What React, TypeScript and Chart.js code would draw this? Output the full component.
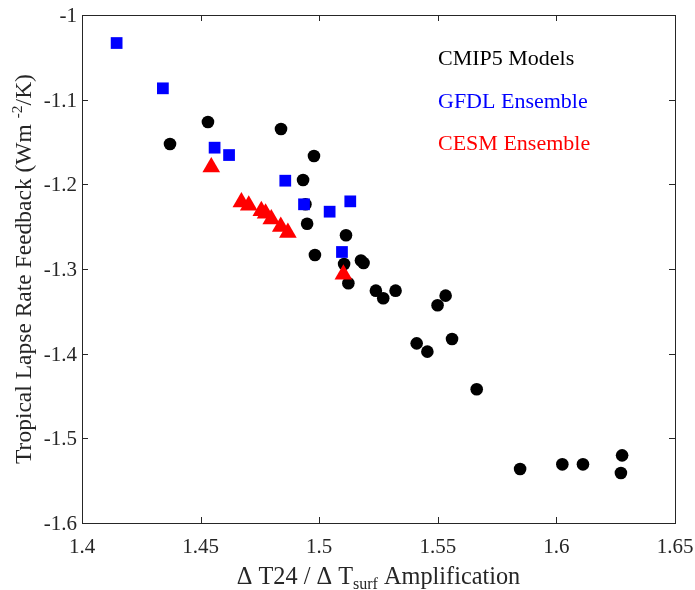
import { useEffect, useRef } from 'react';
import { Chart, registerables } from 'chart.js';
Chart.register(...registerables);

const FONT = '"Liberation Serif", "Times New Roman", Times, serif';
const AXIS_COLOR = '#262626';

// CMIP5 models (black circles)
const cmipX = [1.4371, 1.4531, 1.4839, 1.4978, 1.4932, 1.4942, 1.4949, 1.4982, 1.5113, 1.5176, 1.5187, 1.5105, 1.5123, 1.5239, 1.5270, 1.5322, 1.5533, 1.5499, 1.5411, 1.5456, 1.5560, 1.5664, 1.5847, 1.6025, 1.6112, 1.6277, 1.6272];
const cmipY = [-1.1524, -1.1264, -1.1346, -1.1665, -1.1949, -1.2236, -1.2465, -1.2835, -1.2602, -1.2900, -1.2929, -1.2941, -1.3169, -1.3256, -1.3346, -1.3256, -1.3315, -1.3429, -1.3878, -1.3976, -1.3827, -1.4421, -1.5362, -1.5307, -1.5307, -1.5201, -1.5409];

// GFDL ensemble (blue squares)
const gfdlX = [1.4146, 1.4341, 1.4559, 1.4620, 1.4857, 1.4936, 1.5044, 1.5131, 1.5096];
const gfdlY = [-1.0331, -1.0866, -1.1567, -1.1654, -1.1957, -1.2236, -1.2323, -1.2201, -1.2799];

// CESM ensemble (red triangles)
const cesmX = [1.4545, 1.4672, 1.4703, 1.4756, 1.4774, 1.4798, 1.4838, 1.4868, 1.5102];
const cesmY = [-1.1797, -1.2211, -1.2250, -1.2313, -1.2344, -1.2412, -1.2501, -1.2572, -1.3065];

const xTicks = [1.4, 1.45, 1.5, 1.55, 1.6, 1.65];
const xTickLabels = ['1.4', '1.45', '1.5', '1.55', '1.6', '1.65'];
const yTicks = [-1, -1.1, -1.2, -1.3, -1.4, -1.5, -1.6];
const yTickLabels = ['-1', '-1.1', '-1.2', '-1.3', '-1.4', '-1.5', '-1.6'];

const legendLabels = ['CMIP5 Models', 'GFDL Ensemble', 'CESM Ensemble'];
const legendColors = ['#000000', '#0000ff', '#ff0000'];

const toPoints = (xs: number[], ys: number[]) => xs.map((x, i) => ({ x, y: ys[i] }));

type Part = { t: string; size: number; dy: number };

function drawParts(ctx: CanvasRenderingContext2D, parts: Part[], cx: number, baseline: number) {
  let total = 0;
  const widths = parts.map((p) => {
    ctx.font = `${p.size}px ${FONT}`;
    const w = ctx.measureText(p.t).width;
    total += w;
    return w;
  });
  let x = cx - total / 2;
  parts.forEach((p, i) => {
    ctx.font = `${p.size}px ${FONT}`;
    ctx.fillText(p.t, x, baseline + p.dy);
    x += widths[i];
  });
}

const framePlugin = {
  id: 'frame',
  afterDatasetsDraw(chart: any) {
    const { ctx, chartArea } = chart;
    const { left, right, top, bottom } = chartArea;
    const xs = chart.scales.x;
    const ys = chart.scales.y;
    ctx.save();
    ctx.strokeStyle = AXIS_COLOR;
    ctx.lineWidth = 1;
    ctx.strokeRect(Math.round(left) + 0.5, Math.round(top) + 0.5, Math.round(right - left), Math.round(bottom - top));
    const tl = 6;
    ctx.beginPath();
    xTicks.forEach((v) => {
      const px = Math.round(xs.getPixelForValue(v)) + 0.5;
      ctx.moveTo(px, bottom);
      ctx.lineTo(px, bottom - tl);
      ctx.moveTo(px, top);
      ctx.lineTo(px, top + tl);
    });
    yTicks.forEach((v) => {
      const py = Math.round(ys.getPixelForValue(v)) + 0.5;
      ctx.moveTo(left, py);
      ctx.lineTo(left + tl, py);
      ctx.moveTo(right, py);
      ctx.lineTo(right - tl, py);
    });
    ctx.stroke();

    // tick labels
    ctx.fillStyle = AXIS_COLOR;
    ctx.font = `21px ${FONT}`;
    ctx.textBaseline = 'alphabetic';
    ctx.textAlign = 'center';
    xTicks.forEach((v, i) => {
      ctx.fillText(xTickLabels[i], xs.getPixelForValue(v), bottom + 30);
    });
    ctx.textAlign = 'right';
    yTicks.forEach((v, i) => {
      ctx.fillText(yTickLabels[i], left - 5, ys.getPixelForValue(v) + 7);
    });

    // axis titles
    ctx.textAlign = 'left';
    drawParts(
      ctx,
      [
        { t: '\u0394 T24 / \u0394 T', size: 24.3, dy: 0 },
        { t: 'surf', size: 16, dy: 5 },
        { t: ' Amplification', size: 24.3, dy: 0 },
      ],
      (left + right) / 2,
      584
    );
    ctx.save();
    ctx.translate(31, (top + bottom) / 2);
    ctx.rotate(-Math.PI / 2);
    drawParts(
      ctx,
      [
        { t: 'Tropical Lapse Rate Feedback (Wm ', size: 23.5, dy: 0 },
        { t: '-2', size: 15.5, dy: -9 },
        { t: '/K)', size: 23.5, dy: 0 },
      ],
      0,
      0
    );
    ctx.restore();

    // legend texts
    ctx.font = `22px ${FONT}`;
    const baselines = [65, 108, 150];
    legendLabels.forEach((s, i) => {
      ctx.fillStyle = legendColors[i];
      ctx.fillText(s, 438, baselines[i]);
    });
    ctx.restore();
  },
};

export default function App() {
  const ref = useRef<HTMLCanvasElement>(null);
  useEffect(() => {
    const chart = new Chart(ref.current as HTMLCanvasElement, {
      type: 'scatter',
      data: {
        datasets: [
          {
            label: legendLabels[0],
            data: toPoints(cmipX, cmipY),
            pointStyle: 'circle',
            pointRadius: 6.3,
            backgroundColor: '#000000',
            borderColor: '#000000',
            borderWidth: 0,
            order: 3,
          },
          {
            label: legendLabels[1],
            data: toPoints(gfdlX, gfdlY),
            pointStyle: 'rect',
            pointRadius: 8.3,
            backgroundColor: '#0000ff',
            borderColor: '#0000ff',
            borderWidth: 0,
            order: 2,
          },
          {
            label: legendLabels[2],
            data: toPoints(cesmX, cesmY),
            pointStyle: 'triangle',
            pointRadius: 10.2,
            backgroundColor: '#ff0000',
            borderColor: '#ff0000',
            borderWidth: 0,
            order: 1,
          },
        ],
      },
      options: {
        responsive: false,
        animation: false,
        devicePixelRatio: 1,
        events: [],
        layout: { padding: { left: 0, top: 15, right: 20, bottom: 0 } },
        plugins: { legend: { display: false }, tooltip: { enabled: false } },
        scales: {
          x: {
            type: 'linear',
            min: 1.4,
            max: 1.65,
            ticks: { display: false },
            grid: { display: false },
            border: { display: false },
            afterFit: (s: any) => {
              s.height = 67;
            },
          },
          y: {
            type: 'linear',
            min: -1.6,
            max: -1,
            ticks: { display: false },
            grid: { display: false },
            border: { display: false },
            afterFit: (s: any) => {
              s.width = 82;
            },
          },
        },
      },
      plugins: [framePlugin],
    });
    return () => chart.destroy();
  }, []);
  return (
    <div style={{ position: 'absolute', left: 0, top: 0, width: 695, height: 590, background: '#ffffff' }}>
      <canvas ref={ref} width={695} height={590} style={{ display: 'block', width: 695, height: 590 }} />
    </div>
  );
}
